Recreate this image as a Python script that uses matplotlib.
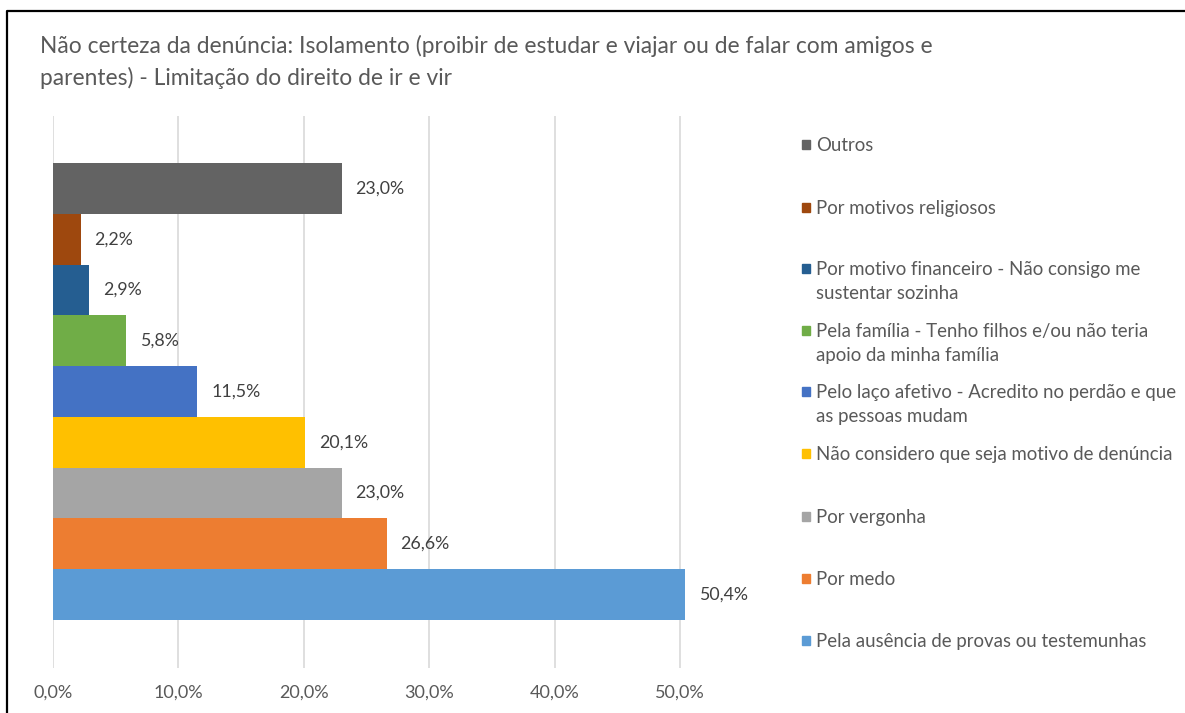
import matplotlib
matplotlib.use("Agg")
import matplotlib.pyplot as plt
from matplotlib.lines import Line2D
from matplotlib.patches import Rectangle

plt.rcParams['font.family'] = ['Lato', 'DejaVu Sans']

# bottom to top, as drawn
categorias = [
    "Pela ausência de provas ou testemunhas",
    "Por medo",
    "Por vergonha",
    "Não considero que seja motivo de denúncia",
    "Pelo laço afetivo - Acredito no perdão e que\nas pessoas mudam",
    "Pela família - Tenho filhos e/ou não teria\napoio da minha família",
    "Por motivo financeiro - Não consigo me\nsustentar sozinha",
    "Por motivos religiosos",
    "Outros",
]
valores = [0.504, 0.266, 0.230, 0.201, 0.115, 0.058, 0.029, 0.022, 0.230]
cores = ["#5B9BD5", "#ED7D31", "#A5A5A5", "#FFC000", "#4472C4",
         "#70AD47", "#255E91", "#9E480E", "#636363"]
ticks = [0.0, 0.1, 0.2, 0.3, 0.4, 0.5]
titulo = ("Não certeza da denúncia: Isolamento (proibir de estudar e viajar ou de falar com amigos e\n"
          "parentes) - Limitação do direito de ir e vir")

W, H = 1185, 713
fig = plt.figure(figsize=(W / 100, H / 100), dpi=100)

def fx(px):
    return px / W

def fy(py):
    return 1 - py / H

ax = fig.add_axes([fx(53), fy(668), fx(743) - fx(53), fy(116) - fy(668)])

for i, (v, c) in enumerate(zip(valores, cores)):
    ax.barh(i, v, height=1.0, color=c, edgecolor='none', zorder=3)
    ax.annotate(f"{v*100:.1f}%".replace('.', ','), (v, i), xytext=(10, 0),
                textcoords='offset points', va='center', ha='left',
                fontsize=12.8, color='#404040')

ax.set_xlim(0, 0.55)
ax.set_ylim(-0.5 - 48 / 50.8, 8.5 + 47 / 50.8)
ax.set_xticks(ticks)
ax.set_xticklabels([f"{t*100:.1f}%".replace('.', ',') for t in ticks],
                   fontsize=13, color='#595959')
ax.set_yticks([])
ax.tick_params(axis='x', length=0, pad=12)
ax.grid(axis='x', color='#D9D9D9', linewidth=1.2, zorder=0)
for s in ax.spines.values():
    s.set_visible(False)

# legend, top entry first
leg_y = [144, 207, 268, 330, 391, 453, 516, 578, 640]
for k, idx in enumerate(range(len(categorias) - 1, -1, -1)):
    y = leg_y[k]
    fig.patches.append(Rectangle((fx(802), fy(y + 5)), fx(8), 9 / H,
                                 transform=fig.transFigure, color=cores[idx]))
    fig.text(fx(816), fy(y - 7), categorias[idx], fontsize=13.4, color='#595959',
             va='top', ha='left', linespacing=1.5)

fig.text(fx(40), fy(35), titulo, fontsize=16.4, color='#595959', va='top',
         ha='left', linespacing=1.55)

fig.lines.append(Line2D([fx(6.5), fx(6.5), 1.0], [0.0, fy(11), fy(11)],
                        transform=fig.transFigure, color='black', linewidth=1.6))

fig.savefig("out.png", dpi=100)
